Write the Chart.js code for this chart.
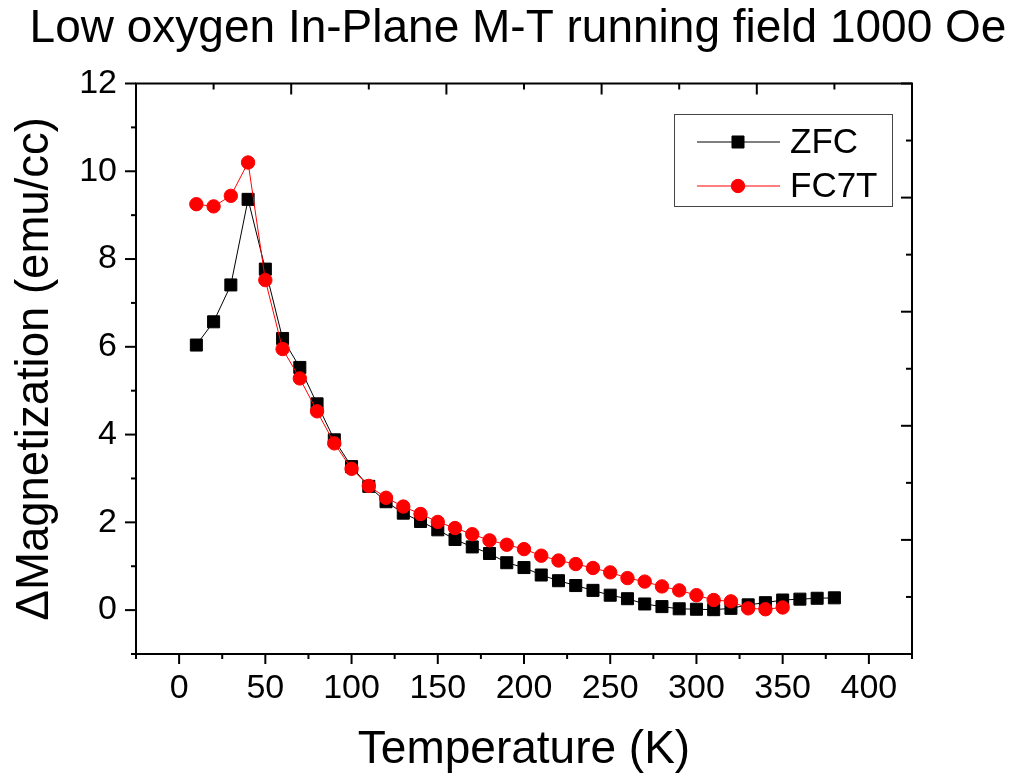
<!DOCTYPE html>
<html>
<head>
<meta charset="utf-8">
<script src="https://cdn.jsdelivr.net/npm/chart.js@4/dist/chart.umd.min.js"></script>
<style>
  html, body { margin: 0; padding: 0; background: #fff; }
  #wrap { width: 1018px; height: 778px; position: relative; }
</style>
</head>
<body>
<div id="wrap"><canvas id="chart"></canvas></div>
<script>
// ZFC: temperature (K) and delta magnetization (emu/cc)
const zfcTemps = [10, 20, 30, 40, 50, 60, 70, 80, 90, 100, 110, 120, 130, 140, 150, 160, 170, 180, 190, 200,
                  210, 220, 230, 240, 250, 260, 270, 280, 290, 300, 310, 320, 330, 340, 350, 360, 370, 380];
const zfcValues = [6.04, 6.57, 7.41, 9.36, 7.77, 6.19, 5.53, 4.70, 3.88, 3.27, 2.82, 2.47, 2.21, 2.02, 1.83, 1.61, 1.44, 1.29, 1.08, 0.97,
                   0.80, 0.67, 0.56, 0.45, 0.34, 0.26, 0.14, 0.08, 0.03, 0.02, 0.01, 0.04, 0.12, 0.17, 0.23, 0.25, 0.27, 0.28];

// FC7T
const fcTemps = [10, 20, 30, 40, 50, 60, 70, 80, 90, 100, 110, 120, 130, 140, 150, 160, 170, 180, 190, 200,
                 210, 220, 230, 240, 250, 260, 270, 280, 290, 300, 310, 320, 330, 340, 350];
const fcValues = [9.25, 9.20, 9.44, 10.20, 7.52, 5.95, 5.28, 4.53, 3.80, 3.22, 2.83, 2.56, 2.36, 2.19, 2.01, 1.87, 1.73, 1.59, 1.49, 1.39,
                  1.24, 1.13, 1.05, 0.96, 0.86, 0.73, 0.65, 0.54, 0.45, 0.34, 0.23, 0.20, 0.04, 0.02, 0.06];

const xLabels = [0, 50, 100, 150, 200, 250, 300, 350, 400];
const yLabels = [0, 2, 4, 6, 8, 10, 12];

const FONT = "'Liberation Sans', Arial, sans-serif";
Chart.defaults.font.family = FONT;
Chart.defaults.color = '#000';

function toPoints(xs, ys) {
    return xs.map((t, i) => ({ x: t, y: ys[i] }));
}

function line(ctx, x1, y1, x2, y2) {
    ctx.beginPath();
    ctx.moveTo(x1, y1);
    ctx.lineTo(x2, y2);
    ctx.stroke();
}

// box around the plot, tick marks (outward on left/bottom, inward on top/right)
const frameTicks = {
    id: 'frameTicks',
    afterDraw(chart) {
        const { ctx, chartArea: a, scales: { x, y } } = chart;
        ctx.save();
        ctx.strokeStyle = '#000';
        ctx.lineWidth = 2;
        x.ticks.forEach(t => {
            const px = x.getPixelForValue(t.value);
            const len = xLabels.includes(t.value) ? 10 : 5;
            line(ctx, px, a.bottom, px, a.bottom + len);
        });
        y.ticks.forEach(t => {
            const py = y.getPixelForValue(t.value);
            const len = yLabels.includes(t.value) ? 11 : 5;
            line(ctx, a.left, py, a.left - len, py);
        });
        for (let i = 0; i <= 10; i++) {
            const len = i % 2 === 0 ? 11 : 6;
            const px = a.left + (a.right - a.left) * i / 10;
            line(ctx, px, a.top, px, a.top + len);
            const py = a.bottom - (a.bottom - a.top) * i / 10;
            line(ctx, a.right, py, a.right - len, py);
        }
        ctx.strokeRect(a.left, a.top, a.right - a.left, a.bottom - a.top);
        ctx.restore();
    }
};

// legend box inside the plot, top right
const insideLegend = {
    id: 'insideLegend',
    afterDraw(chart) {
        const { ctx, chartArea: a } = chart;
        const bx = a.right - 238, by = a.top + 30.5, bw = 218, bh = 92;
        ctx.save();
        ctx.fillStyle = '#fff';
        ctx.fillRect(bx, by, bw, bh);
        ctx.strokeStyle = '#444';
        ctx.lineWidth = 1;
        ctx.strokeRect(bx + 0.5, by + 0.5, bw, bh);
        chart.data.datasets.forEach((ds, i) => {
            const ly = by + 28 + i * 44;
            ctx.strokeStyle = ds.borderColor;
            ctx.lineWidth = 1;
            line(ctx, bx + 23, ly, bx + 106, ly);
            ctx.fillStyle = ds.backgroundColor;
            ctx.strokeStyle = ds.borderColor;
            Chart.helpers.drawPoint(ctx, { pointStyle: ds.pointStyle, radius: ds.pointRadius, rotation: 0, borderWidth: 1 }, bx + 64, ly);
            ctx.fillStyle = '#000';
            ctx.font = '35px ' + FONT;
            ctx.textBaseline = 'middle';
            ctx.textAlign = 'left';
            ctx.fillText(ds.label, bx + 116, ly + 1);
        });
        ctx.restore();
    }
};

new Chart(document.getElementById('chart'), {
    type: 'line',
    data: {
        datasets: [
            {
                label: 'ZFC',
                data: toPoints(zfcTemps, zfcValues),
                borderColor: '#000',
                backgroundColor: '#000',
                borderWidth: 1,
                pointStyle: 'rect',
                pointRadius: 8.5,
                pointBorderWidth: 1,
                tension: 0,
                order: 1
            },
            {
                label: 'FC7T',
                data: toPoints(fcTemps, fcValues),
                borderColor: '#ff0000',
                backgroundColor: '#ff0000',
                borderWidth: 1,
                pointStyle: 'circle',
                pointRadius: 6.7,
                pointBorderWidth: 1,
                tension: 0,
                order: 0
            }
        ]
    },
    options: {
        responsive: true,
        maintainAspectRatio: false,
        animation: false,
        layout: { padding: { left: 18, right: 0, top: 0, bottom: 0 } },
        scales: {
            x: {
                type: 'linear',
                min: -25,
                max: 425,
                border: { display: false },
                grid: { drawOnChartArea: false, drawTicks: true, tickLength: 10, tickColor: 'rgba(0,0,0,0)' },
                ticks: {
                    stepSize: 25,
                    autoSkip: false,
                    maxRotation: 0,
                    padding: 4,
                    font: { size: 34 },
                    callback: v => xLabels.includes(v) ? String(v) : ''
                },
                title: { display: true, text: 'Temperature (K)', font: { size: 46 }, padding: { top: 0, bottom: 0 } },
                afterFit: s => { s.height = 124; }
            },
            y: {
                min: -1,
                max: 12,
                border: { display: false },
                grid: { drawOnChartArea: false, drawTicks: true, tickLength: 11, tickColor: 'rgba(0,0,0,0)' },
                ticks: {
                    stepSize: 1,
                    autoSkip: false,
                    padding: 8,
                    font: { size: 34 },
                    callback: v => yLabels.includes(v) ? String(v) : ''
                },
                title: { display: true, text: '\u0394Magnetization (emu/cc)', font: { size: 45.5 }, padding: { top: -10, bottom: 0 } },
                afterFit: s => { s.width = 118; }
            },
            // empty right-hand box, only reserves the margin right of the plot
            yRight: {
                position: 'right',
                min: 0,
                max: 1,
                border: { display: false },
                grid: { display: false },
                ticks: { display: false },
                afterFit: s => { s.width = 106; }
            }
        },
        plugins: {
            legend: { display: false },
            tooltip: { enabled: false },
            title: {
                display: true,
                text: 'Low oxygen In-Plane M-T running field 1000 Oe',
                font: { size: 46, weight: 'normal' },
                color: '#000',
                padding: { top: 2, bottom: 26.3 }
            }
        }
    },
    plugins: [frameTicks, insideLegend]
});
</script>
</body>
</html>
